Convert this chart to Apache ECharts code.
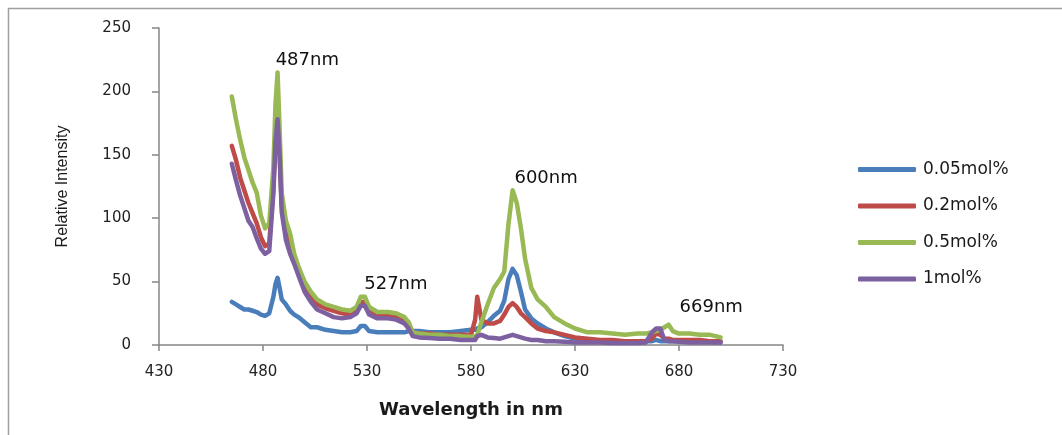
<!DOCTYPE html>
<html>
<head>
<meta charset="utf-8">
<script src="https://cdn.jsdelivr.net/npm/echarts@6/dist/echarts.min.js"></script>
<style>
html,body{margin:0;padding:0;background:#fff;}
#chart{width:1062px;height:435px;}
</style>
</head>
<body>
<div id="chart"></div>
<script>
const wavelengths = [465,467,469,471,473,475,477,479,481,483,485,486,487,488,489,491,493,495,497,500,503,506,510,514,518,522,525,527,529,531,535,540,544,548,550,552,555,560,565,570,575,580,582,583,585,588,591,594,596,598,600,602,604,606,609,612,616,620,625,630,636,642,648,654,660,664,667,669,671,673,675,677,680,685,690,695,700];

const s005 = [34,32,30,28,28,27,26,24,23,25,38,48,53,45,36,32,27,24,22,18,14,14,12,11,10,10,11,15,15,11,10,10,10,10,11,11,11,10,10,10,11,12,12,13,14,18,23,27,35,52,60,55,42,28,21,17,13,10,7,5,4,3.5,3,3,3,3,3,4,3,3,3,3,3,3,2.5,2.5,2];

const s02 = [157,146,132,122,112,104,96,85,78,80,125,160,176,150,110,88,80,68,58,46,38,32,29,27,25,24,27,34,34,28,24,24,23,20,16,10,9,9,8,8,8,8,20,38,20,17,17,19,24,30,33,30,25,22,17,13,11,10,8,6,5,4,4,3,3,3,5,9,8,5,5,4,4,4,4,3,3];

const s05 = [196,178,162,148,138,128,120,102,92,96,140,190,215,170,120,98,88,72,62,50,42,36,32,30,28,27,30,38,38,30,26,26,25,22,18,10,9,8,8,7,7,6.5,7,8,18,32,45,52,58,95,122,112,92,68,45,36,30,22,17,13,10,10,9,8,9,9,10,11,12,14,16,11,9,9,8,8,6];

const s1 = [143,130,118,108,98,93,84,76,72,74,120,160,178,150,105,83,72,64,55,42,34,28,25,22,21,22,25,31,31,24,21,21,20,17,13,7,6,5.5,5,5,4,4,4,7,8,6,5.5,5,6,7,8,7,6,5,4,4,3,3,2.5,2,2,2,1.5,1.5,1.5,2,10,13,13,4,3,3,2.5,2,2,2,2];

const seriesNames = ['0.05mol%','0.2mol%','0.5mol%','1mol%'];
const seriesColors = ['#4A7EBB','#BE4B48','#98B954','#7D60A0'];

const xTicks = [430,480,530,580,630,680,730];
const yTicks = [0,50,100,150,200,250];

const peakLabels = ['487nm','527nm','600nm','669nm'];
const peakLabelX = [501.3,543.9,616.1,695.5];
const peakLabelY = [224.8,48.1,131.7,30];

const chart = echarts.init(document.getElementById('chart'), null, {renderer:'canvas'});

function pairs(vals){ return wavelengths.map((w,i)=>[w, vals[i]]); }
const allVals = [s005, s02, s05, s1];

const lineSeries = allVals.map((vals,i)=>({
  name: seriesNames[i],
  type: 'line',
  data: pairs(vals),
  showSymbol: false,
  symbol: 'none',
  lineStyle: {width: 4.5, color: seriesColors[i], cap:'round', join:'round'},
  itemStyle: {color: seriesColors[i]},
  animation: false,
  z: 2 + i
}));

const labelSeries = {
  type: 'scatter',
  data: peakLabels.map((t,i)=>({value:[peakLabelX[i], peakLabelY[i]], name:t})),
  symbolSize: 1,
  silent: true,
  animation: false,
  z: 10,
  itemStyle: {opacity: 0},
  label: {
    show: true,
    position: 'inside',
    formatter: p => p.name,
    color: '#111111',
    opacity: 1,
    textBorderWidth: 0,
    fontFamily: 'DejaVu Sans',
    fontSize: 18
  }
};

chart.setOption({
  animation: false,
  backgroundColor: '#ffffff',
  grid: {left: 159, right: 279, top: 28, bottom: 90, containLabel: false},
  xAxis: {
    type: 'value',
    min: xTicks[0], max: xTicks[xTicks.length-1], interval: 50,
    name: 'Wavelength in nm',
    nameLocation: 'middle',
    nameGap: 56,
    nameTextStyle: {fontFamily:'DejaVu Sans', fontWeight:'bold', fontSize:18, color:'#1a1a1a'},
    axisLine: {show:true, onZero:false, lineStyle:{color:'#868686', width:1.5}},
    axisTick: {show:true, length:6, lineStyle:{color:'#868686', width:1.5}},
    axisLabel: {margin: 20, fontFamily:'DejaVu Sans', fontSize:15, color:'#222'},
    splitLine: {show:false}
  },
  yAxis: {
    type: 'value',
    min: yTicks[0], max: yTicks[yTicks.length-1], interval: 50,
    name: 'Relative Intensity',
    nameLocation: 'middle',
    nameRotate: 90,
    nameGap: 88,
    nameTextStyle: {fontFamily:'Liberation Sans', fontSize:16, color:'#1a1a1a'},
    axisLine: {show:true, lineStyle:{color:'#868686', width:1.5}},
    axisTick: {show:true, length:7, lineStyle:{color:'#868686', width:1.5}},
    axisLabel: {margin: 28, fontFamily:'DejaVu Sans', fontSize:15, color:'#222'},
    splitLine: {show:false}
  },
  legend: {
    orient: 'vertical',
    left: 853,
    top: 156,
    data: seriesNames,
    icon: 'roundRect',
    itemWidth: 58,
    itemHeight: 5,
    itemGap: 19.5,
    textStyle: {fontFamily:'DejaVu Sans', fontSize:17, color:'#1a1a1a', padding:[0,0,0,2]}
  },
  graphic: [{
    type: 'rect',
    left: 6, top: 6,
    shape: {width: 1100, height: 500},
    style: {fill: 'none', stroke: '#a0a0a0', lineWidth: 1.5},
    silent: true,
    z: -1
  }],
  series: [...lineSeries, labelSeries]
});
</script>
</body>
</html>
